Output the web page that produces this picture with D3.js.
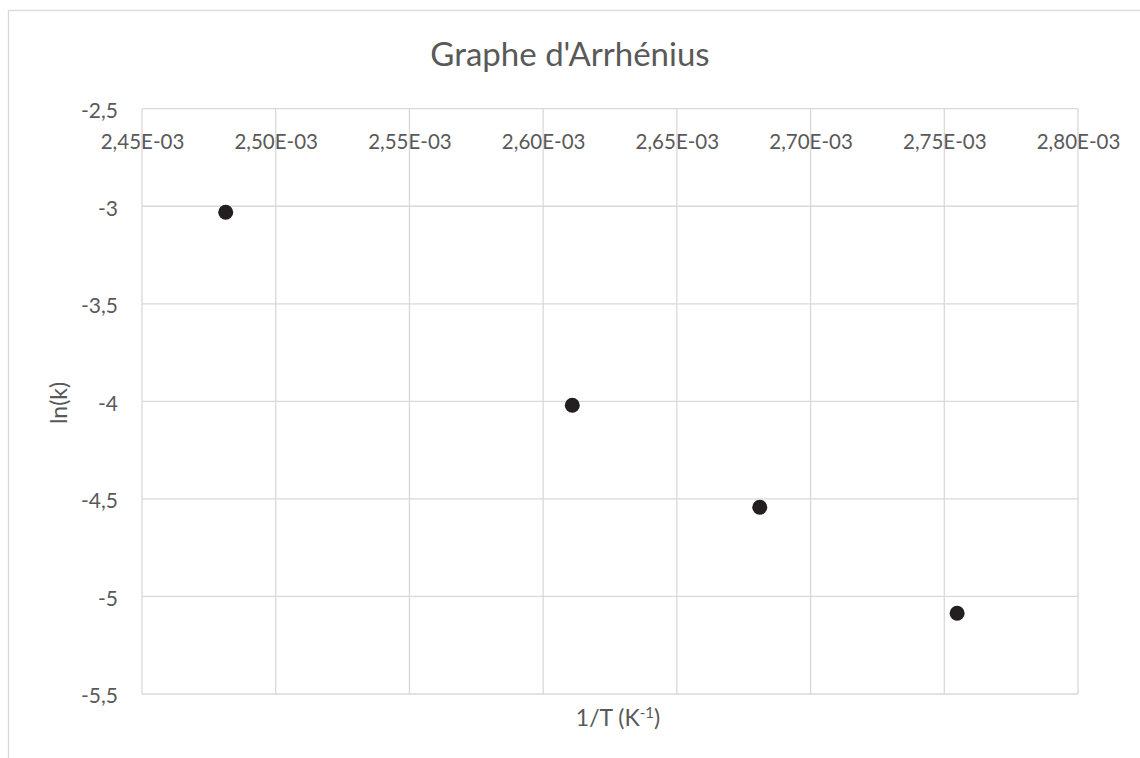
<!DOCTYPE html>
<html>
<head>
<meta charset="utf-8">
<script src="https://cdn.jsdelivr.net/npm/d3@7/dist/d3.min.js"></script>
<style>
  html, body { margin: 0; padding: 0; background: #fff; }
  svg { display: block; }
  text { font-family: Lato, "Open Sans", sans-serif; fill: #595959; }
</style>
</head>
<body>
<svg id="chart" width="1140" height="758"></svg>
<script>
// ---- data ----
const invT = [0.0024813, 0.0026109, 0.002681, 0.0027548];
const lnK = [-3.031, -4.020, -4.543, -5.086];
const xTicks = [0.00245, 0.0025, 0.00255, 0.0026, 0.00265, 0.0027, 0.00275, 0.0028];
const xTickLabels = ["2,45E-03", "2,50E-03", "2,55E-03", "2,60E-03", "2,65E-03", "2,70E-03", "2,75E-03", "2,80E-03"];
const yTicks = [-2.5, -3, -3.5, -4, -4.5, -5, -5.5];
const yTickLabels = ["-2,5", "-3", "-3,5", "-4", "-4,5", "-5", "-5,5"];
const titleText = "Graphe d'Arrhénius";
const yTitle = "ln(k)";

// ---- layout ----
const W = 1140, H = 758;
const plot = { left: 142, top: 108.7, right: 1078, bottom: 694 };
const grid = "#d9d9d9";
const FONT = "Lato, 'Open Sans', sans-serif";

const svg = d3.select("#chart");

// outer chart border (partially clipped by the window)
svg.append("rect")
  .attr("x", 8.5).attr("y", 10.5)
  .attr("width", W + 20).attr("height", H + 20)
  .attr("fill", "none").attr("stroke", grid).attr("stroke-width", 1.3);

const x = d3.scaleLinear().domain([0.00245, 0.0028]).range([plot.left, plot.right]);
const y = d3.scaleLinear().domain([-5.5, -2.5]).range([plot.bottom, plot.top]);

// gridlines
const g = svg.append("g");
g.selectAll("line.vx").data(xTicks).join("line")
  .attr("x1", d => x(d)).attr("x2", d => x(d))
  .attr("y1", plot.top).attr("y2", plot.bottom)
  .attr("stroke", grid).attr("stroke-width", 1.3);
g.selectAll("line.hy").data(yTicks).join("line")
  .attr("x1", plot.left).attr("x2", plot.right)
  .attr("y1", d => y(d)).attr("y2", d => y(d))
  .attr("stroke", grid).attr("stroke-width", 1.3);

// x axis labels (axis crosses at top, labels below it)
const xAxis = d3.axisBottom(x).tickValues(xTicks)
  .tickFormat((d, i) => xTickLabels[i]).tickSize(0).tickPadding(0);
const xg = svg.append("g").attr("transform", `translate(0,${plot.top})`).call(xAxis);
xg.select(".domain").remove();
xg.selectAll("text").attr("y", 32.5).attr("dy", "0.36em")
  .style("font-size", "20.5px").style("fill", "#595959")
  .style("font-family", FONT);

// y axis labels
const yAxis = d3.axisLeft(y).tickValues(yTicks)
  .tickFormat((d, i) => yTickLabels[i]).tickSize(0).tickPadding(0);
const yg = svg.append("g").attr("transform", `translate(${118},0)`).call(yAxis);
yg.select(".domain").remove();
yg.selectAll("text").attr("x", 0).attr("dy", "0.42em")
  .style("font-size", "21px").style("fill", "#595959")
  .style("font-family", FONT);

// points
svg.append("g").selectAll("circle").data(invT).join("circle")
  .attr("cx", d => x(d)).attr("cy", (d, i) => y(lnK[i]))
  .attr("r", 7.5).attr("fill", "#231f20");

// title
svg.append("text").attr("x", 570).attr("y", 66)
  .attr("text-anchor", "middle").style("font-size", "33px")
  .text(titleText);

// y title
svg.append("text")
  .attr("transform", `translate(67,403) rotate(-90)`)
  .attr("text-anchor", "middle").style("font-size", "23px")
  .text(yTitle);

// x title
const xt = svg.append("text").attr("x", 618).attr("y", 726)
  .attr("text-anchor", "middle").style("font-size", "23px");
xt.append("tspan").text("1/T (K");
xt.append("tspan").attr("dy", -8).style("font-size", "15px").text("-1");
xt.append("tspan").attr("dy", 8).text(")");
</script>
</body>
</html>
